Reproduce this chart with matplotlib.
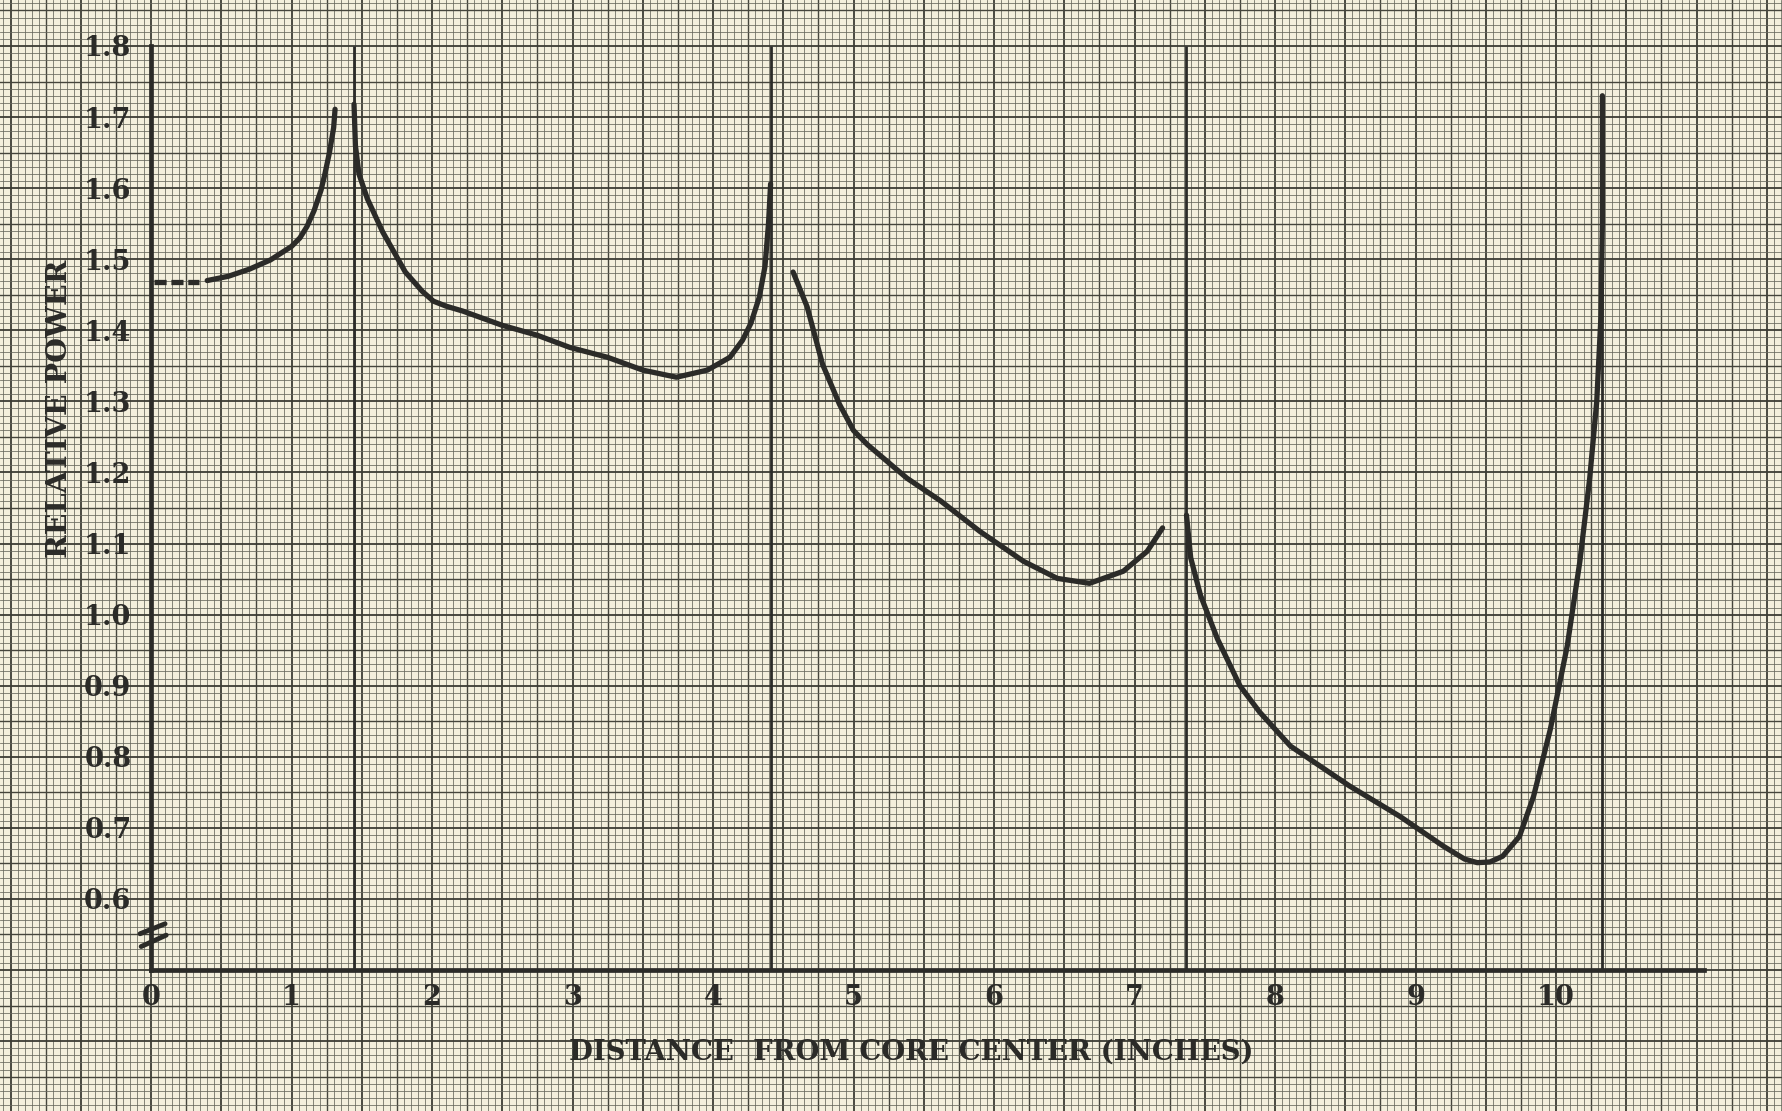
from matplotlib import pyplot as plt
import numpy as np

# relative power vs distance from core center
dash_x = [0.02, 0.34]
dash_y = [1.468, 1.468]

seg1_x = [0.40, 0.55, 0.70, 0.85, 1.00, 1.06, 1.11, 1.16, 1.21, 1.24, 1.27, 1.30, 1.31]
seg1_y = [1.470, 1.476, 1.486, 1.499, 1.518, 1.530, 1.546, 1.568, 1.597, 1.622, 1.650, 1.685, 1.711]

seg2_x = [1.445, 1.455, 1.48, 1.54, 1.65, 1.81, 1.93, 2.01, 2.10, 2.22, 2.50, 2.75, 2.98, 3.25,
          3.50, 3.74, 3.96, 4.12, 4.21, 4.27, 4.33, 4.37, 4.395, 4.41]
seg2_y = [1.718, 1.66, 1.62, 1.585, 1.538, 1.482, 1.455, 1.441, 1.434, 1.427, 1.407, 1.393, 1.376, 1.362,
          1.344, 1.334, 1.344, 1.362, 1.386, 1.41, 1.447, 1.49, 1.55, 1.606]

seg3_x = [4.57, 4.67, 4.78, 4.90, 5.00, 5.10, 5.38, 5.62, 5.90, 6.21, 6.45, 6.68, 6.92, 7.09, 7.20]
seg3_y = [1.482, 1.433, 1.352, 1.296, 1.259, 1.239, 1.192, 1.160, 1.117, 1.075, 1.051, 1.044, 1.061, 1.089, 1.122]

seg4_x = [7.37, 7.40, 7.47, 7.59, 7.75, 7.89, 8.11, 8.53, 8.89, 9.20, 9.35, 9.44, 9.53, 9.62,
          9.74, 9.84, 9.96, 10.08, 10.17, 10.24, 10.29, 10.32, 10.33, 10.33]
seg4_y = [1.14, 1.08, 1.027, 0.966, 0.90, 0.863, 0.815, 0.759, 0.716, 0.674, 0.656, 0.651, 0.652, 0.66,
          0.688, 0.744, 0.839, 0.956, 1.075, 1.192, 1.30, 1.42, 1.55, 1.73]

# region boundaries (vertical lines) and their top ends
bound_x = [1.445, 4.41, 7.37, 10.33]
bound_top = [1.8, 1.8, 1.8, 1.73]

xticks = list(range(0, 11))
yticks = [0.6, 0.7, 0.8, 0.9, 1.0, 1.1, 1.2, 1.3, 1.4, 1.5, 1.6, 1.7, 1.8]
ylabels = ["0.6", "0.7", "0.8", "0.9", "1.0", "1.1", "1.2", "1.3", "1.4", "1.5", "1.6", "1.7", "1.8"]

W, H = 1782, 1111
XMAX, YMIN, YMAX = 11.05, 0.5, 1.8
paper = "#f3efdc"
ink = "#2b2b28"
font = "DejaVu Serif"

fig = plt.figure(figsize=(W / 100, H / 100), dpi=100)
fig.patch.set_facecolor(paper)

l, b = 151 / W, (H - 970) / H
w, h = XMAX * 140.5 / W, 924 / H

# graph paper, drawn in the same data units as the chart so it lines up
bg = fig.add_axes([0, 0, 1, 1], zorder=0)
bg.axis("off")
x0 = -l / w * XMAX
x1 = XMAX + (1 - l - w) / w * XMAX
y0 = YMIN - b / h * (YMAX - YMIN)
y1 = YMAX + (1 - b - h) / h * (YMAX - YMIN)
bg.set_xlim(x0, x1)
bg.set_ylim(y0, y1)
for k in range(int(np.floor(x0 / 0.05)), int(np.ceil(x1 / 0.05)) + 1):
    xx = k * 0.05
    if k % 10 == 0:
        bg.axvline(xx, color="#3c3c34", lw=1.3)
    elif k % 5 == 0:
        bg.axvline(xx, color="#45453c", lw=1.0)
    else:
        bg.axvline(xx, color="#66665c", lw=0.55)
for k in range(int(np.floor((y0 - 0.5) / 0.01)), int(np.ceil((y1 - 0.5) / 0.01)) + 1):
    yy = 0.5 + k * 0.01
    if k % 10 == 0:
        bg.axhline(yy, color="#3c3c34", lw=1.3)
    elif k % 5 == 0:
        bg.axhline(yy, color="#45453c", lw=1.0)
    else:
        bg.axhline(yy, color="#66665c", lw=0.55)

ax = fig.add_axes([l, b, w, h], zorder=1)
ax.set_facecolor("none")
ax.set_xlim(0, XMAX)
ax.set_ylim(YMIN, YMAX)
for s in ["top", "right"]:
    ax.spines[s].set_visible(False)
for s in ["left", "bottom"]:
    ax.spines[s].set_linewidth(3.4)
    ax.spines[s].set_color(ink)

for bx, bt in zip(bound_x, bound_top):
    ax.plot([bx, bx], [YMIN, bt], color=ink, lw=2.0, solid_capstyle="butt")

kw = dict(color=ink, lw=3.8, solid_capstyle="round", solid_joinstyle="round")
ax.plot(dash_x, dash_y, color=ink, lw=3.8, dashes=(2.3, 0.9))
ax.plot(seg1_x, seg1_y, **kw)
ax.plot(seg2_x, seg2_y, **kw)
ax.plot(seg3_x, seg3_y, **kw)
ax.plot(seg4_x, seg4_y, **kw)

# axis break mark
ax.plot([-0.078, 0.10], [0.551, 0.565], color=ink, lw=3.5, clip_on=False, solid_capstyle="round")
ax.plot([-0.070, 0.108], [0.533, 0.549], color=ink, lw=3.5, clip_on=False, solid_capstyle="round")

ax.set_xticks(xticks)
ax.set_xticklabels([str(t) for t in xticks])
ax.set_yticks(yticks)
ax.set_yticklabels(ylabels)
ax.tick_params(length=0)
ax.tick_params(axis="x", pad=10)
ax.tick_params(axis="y", pad=14)
for t in ax.get_xticklabels() + ax.get_yticklabels():
    t.set_fontfamily(font)
    t.set_fontweight("bold")
    t.set_fontsize(19.5)
    t.set_color(ink)

fig.text(911 / W, 1 - 1052 / H, "DISTANCE  FROM CORE CENTER (INCHES)", ha="center", va="center",
         fontsize=19.8, fontweight="bold", family=font, color=ink)
fig.text(60 / W, 1 - 409 / H, "RELATIVE POWER", ha="center", va="center", rotation=90,
         fontsize=20.5, fontweight="bold", family=font, color=ink)

fig.savefig("out.png", dpi=100, facecolor=paper)
